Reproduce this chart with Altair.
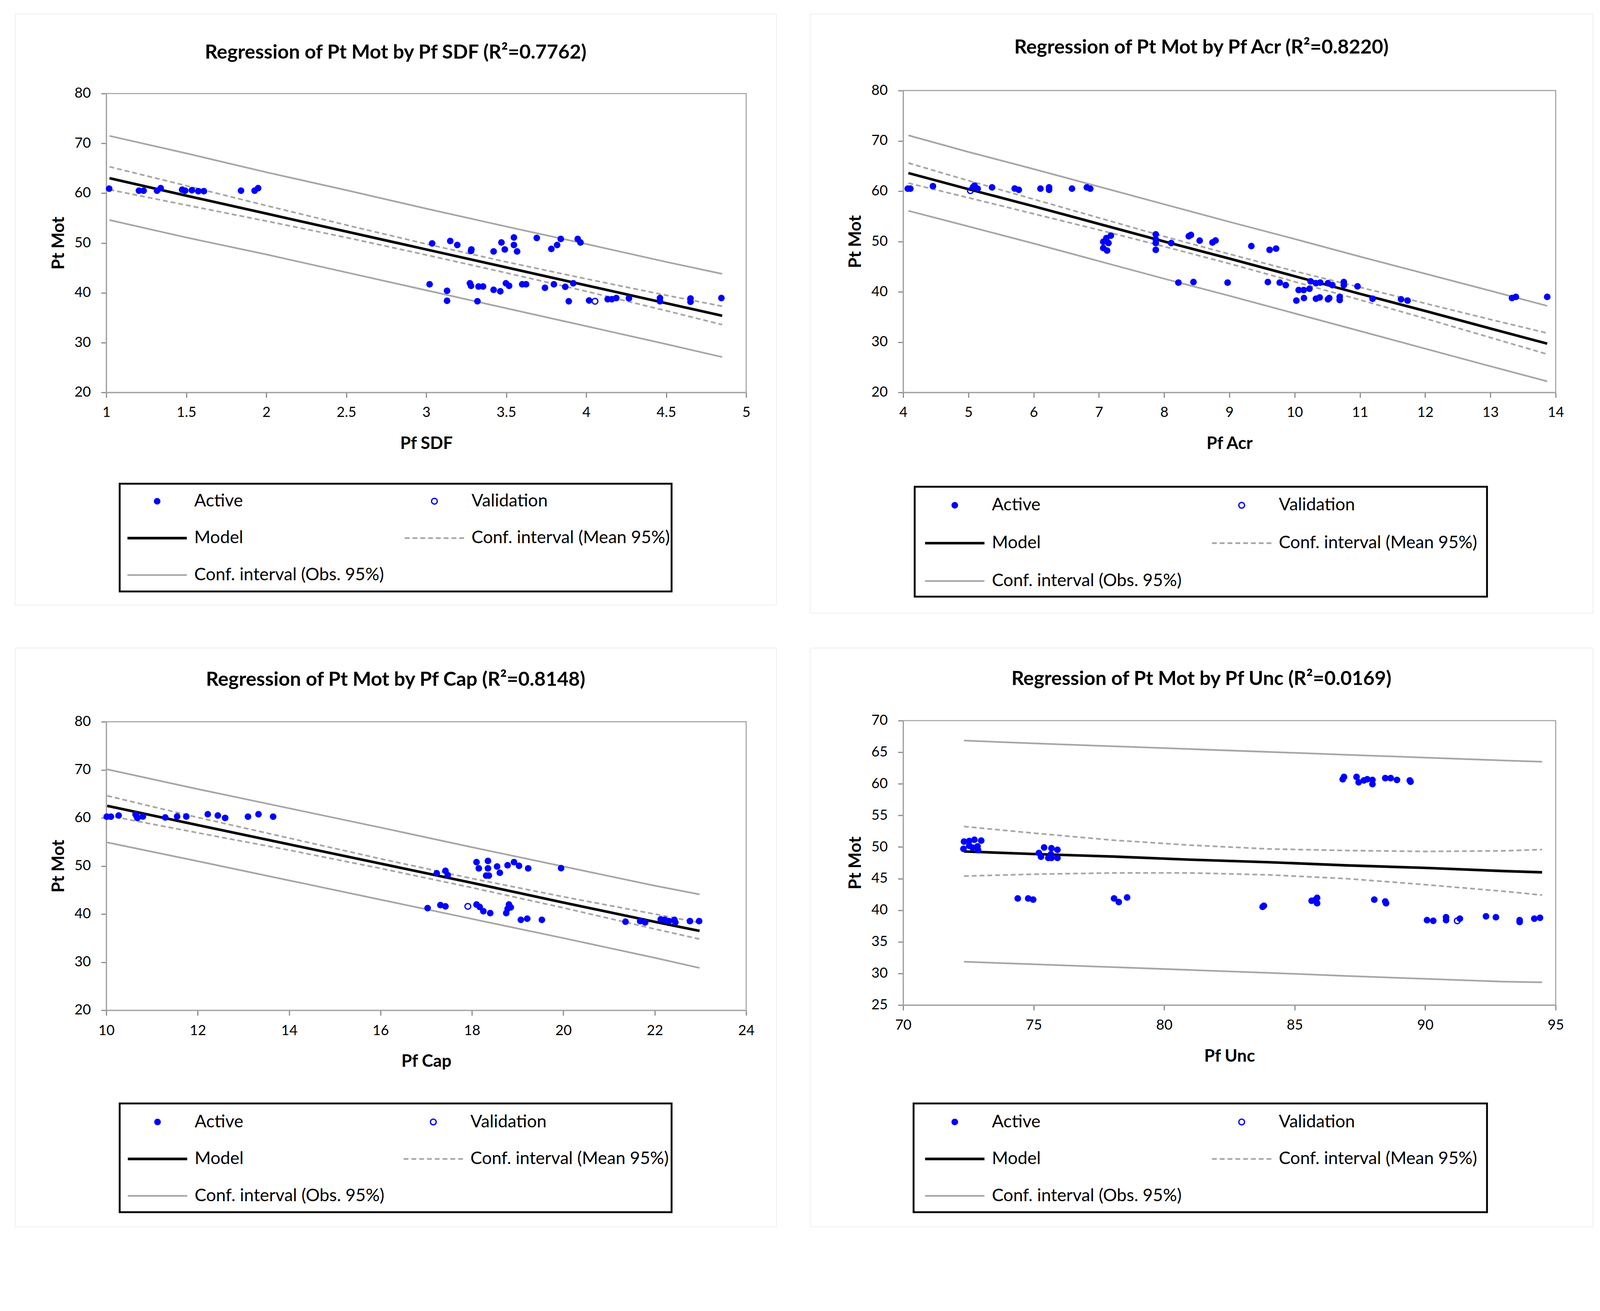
import altair as alt
import pandas as pd

# ------------------------------------------------------------------ data
Y_TITLE = "Pt Mot"
LEGEND_LABELS = ["Active", "Validation", "Model",
                 "Conf. interval (Mean 95%)", "Conf. interval (Obs. 95%)"]
LEGEND_KIND = ["active", "valid", "model", "mean", "obs"]
LEGEND_COL = [0, 1, 0, 1, 0]
LEGEND_ROW = [0, 0, 1, 1, 2]

# Panel 1 : Pf SDF
P1_TITLE = "Regression of Pt Mot by Pf SDF (R²=0.7762)"
P1_XTITLE = "Pf SDF"
P1_XTICKS = [1, 1.5, 2, 2.5, 3, 3.5, 4, 4.5, 5]
P1_YTICKS = [20, 30, 40, 50, 60, 70, 80]
P1_ACTIVE_X = [1.018, 1.204, 1.233, 1.317, 1.340, 1.474, 1.493, 1.535, 1.575, 1.610, 1.842, 1.927, 1.949,
               3.037, 3.150, 3.194, 3.280, 3.282, 3.421, 3.470, 3.491, 3.548, 3.548, 3.568, 3.691, 3.782,
               3.818, 3.841, 3.947, 3.964,
               3.021, 3.130, 3.130, 3.273, 3.280, 3.327, 3.355, 3.320, 3.421, 3.463, 3.498, 3.518, 3.600,
               3.624, 3.742, 3.798, 3.869, 3.919, 3.891, 4.018, 4.134, 4.160, 4.188, 4.267, 4.461, 4.461,
               4.652, 4.652, 4.845]
P1_ACTIVE_Y = [60.9, 60.5, 60.5, 60.5, 61.0, 60.7, 60.5, 60.6, 60.4, 60.4, 60.5, 60.5, 61.0,
               49.9, 50.4, 49.6, 48.4, 48.7, 48.3, 50.1, 48.7, 51.1, 49.6, 48.3, 51.0, 48.8,
               49.6, 50.8, 50.8, 50.1,
               41.7, 40.4, 38.4, 41.9, 41.4, 41.25, 41.25, 38.3, 40.6, 40.3, 41.9, 41.4, 41.7,
               41.7, 41.0, 41.7, 41.2, 41.9, 38.3, 38.45, 38.7, 38.7, 38.95, 38.9, 38.95, 38.3,
               38.85, 38.2, 38.95]
P1_VALID_X = [4.055]
P1_VALID_Y = [38.3]
P1_CURVE_X = [1.02, 1.5, 2.0, 2.5, 3.0, 3.5, 4.0, 4.5, 4.85]
P1_MODEL = [63.0, 59.5, 55.9, 52.3, 48.7, 45.1, 41.5, 37.9, 35.4]
P1_MEAN_UP = [65.3, 61.5, 57.5, 53.6, 49.8, 46.2, 42.8, 39.5, 37.3]
P1_MEAN_LO = [60.7, 57.6, 54.4, 51.1, 47.6, 44.0, 40.3, 36.4, 33.6]
P1_OBS_UP = [71.5, 68.0, 64.2, 60.6, 56.9, 53.3, 49.8, 46.2, 43.8]
P1_OBS_LO = [54.6, 51.1, 47.7, 44.1, 40.5, 36.9, 33.3, 29.7, 27.1]

# Panel 2 : Pf Acr
P2_TITLE = "Regression of Pt Mot by Pf Acr (R²=0.8220)"
P2_XTITLE = "Pf Acr"
P2_XTICKS = [4, 5, 6, 7, 8, 9, 10, 11, 12, 13, 14]
P2_YTICKS = [20, 30, 40, 50, 60, 70, 80]
P2_ACTIVE_X = [4.07, 4.11, 4.456, 5.07, 5.093, 5.141, 5.362, 5.709, 5.772, 6.104, 6.236, 6.236, 6.587,
               6.814, 6.867,
               7.066, 7.114, 7.183, 7.146, 7.066, 7.125, 7.871, 7.871, 7.871, 7.871, 8.108, 8.377, 8.41,
               8.544, 8.74, 8.787, 9.336, 9.616, 9.715,
               8.218, 8.449, 8.972, 9.589, 9.771, 9.863, 10.061, 10.138, 10.227, 10.244, 10.326, 10.392,
               10.51, 10.578, 10.753, 10.753, 10.963,
               10.026, 10.142, 10.326, 10.383, 10.51, 10.53, 10.69, 10.69, 11.194, 11.63, 11.73, 13.33,
               13.39, 13.87]
P2_ACTIVE_Y = [60.5, 60.5, 61.0, 60.8, 61.1, 60.5, 60.76, 60.52, 60.28, 60.5, 60.76, 60.28, 60.5,
               60.76, 60.5,
               49.94, 50.67, 51.17, 49.69, 48.7, 48.2, 51.42, 50.43, 49.69, 48.34, 49.69, 51.04, 51.3,
               50.18, 49.8, 50.2, 49.08, 48.34, 48.58,
               41.82, 41.94, 41.82, 41.94, 41.82, 41.33, 40.35, 40.35, 40.6, 42.07, 41.7, 41.82,
               41.7, 41.33, 41.94, 41.33, 41.08,
               38.25, 38.75, 38.62, 38.87, 38.5, 38.75, 38.99, 38.37, 38.62, 38.5, 38.25, 38.75,
               38.99, 38.99]
P2_VALID_X = [5.03]
P2_VALID_Y = [60.1]
P2_CURVE_X = [4.08, 5, 6, 7, 8, 9, 10, 11, 12, 13, 13.87]
P2_MODEL = [63.6, 60.4, 57.0, 53.5, 50.0, 46.6, 43.1, 39.6, 36.2, 32.7, 29.7]
P2_MEAN_UP = [65.6, 62.1, 58.4, 54.7, 51.0, 47.5, 44.1, 40.9, 37.7, 34.5, 31.8]
P2_MEAN_LO = [61.6, 58.7, 55.5, 52.3, 49.0, 45.6, 42.0, 38.4, 34.7, 30.9, 27.6]
P2_OBS_UP = [71.1, 67.8, 64.4, 60.9, 57.4, 53.9, 50.5, 47.0, 43.6, 40.2, 37.2]
P2_OBS_LO = [56.1, 53.0, 49.6, 46.1, 42.6, 39.2, 35.7, 32.2, 28.7, 25.2, 22.2]

# Panel 3 : Pf Cap
P3_TITLE = "Regression of Pt Mot by Pf Cap (R²=0.8148)"
P3_XTITLE = "Pf Cap"
P3_XTICKS = [10, 12, 14, 16, 18, 20, 22, 24]
P3_YTICKS = [20, 30, 40, 50, 60, 70, 80]
P3_ACTIVE_X = [10.01, 10.1, 10.27, 10.64, 10.68, 10.8, 10.66, 11.29, 11.55, 11.75, 12.22, 12.44, 12.60,
               13.10, 13.33, 13.65,
               17.23, 17.42, 17.47, 18.10, 18.15, 18.35, 18.35, 18.31, 18.37, 18.55, 18.61, 18.78, 18.92,
               19.03, 19.23, 19.95,
               17.03, 17.31, 17.42, 18.10, 18.17, 18.25, 18.40, 18.75, 18.81, 18.85, 18.78, 19.07, 19.21,
               19.53, 21.36, 21.68, 21.79, 22.13, 22.22, 22.31, 22.43, 22.45, 22.77, 22.97]
P3_ACTIVE_Y = [60.25, 60.25, 60.5, 60.75, 60.0, 60.3, 60.4, 60.1, 60.3, 60.3, 60.77, 60.5, 60.0,
               60.25, 60.77, 60.25,
               48.5, 49.0, 48.1, 50.8, 49.5, 51.06, 49.5, 48.0, 48.0, 49.9, 48.6, 50.16, 50.8,
               50.04, 49.5, 49.55,
               41.23, 41.86, 41.61, 41.99, 41.48, 40.58, 40.2, 40.2, 41.99, 41.4, 41.1, 38.8, 39.05,
               38.8, 38.41, 38.54, 38.28, 38.9, 38.8, 38.54, 38.8, 38.28, 38.54, 38.54]
P3_VALID_X = [17.91]
P3_VALID_Y = [41.61]
P3_CURVE_X = [10.02, 12, 14, 16, 18, 20, 22, 22.98]
P3_MODEL = [62.5, 58.5, 54.5, 50.5, 46.5, 42.4, 38.4, 36.5]
P3_MEAN_UP = [64.6, 60.1, 55.8, 51.5, 47.4, 43.6, 40.0, 38.2]
P3_MEAN_LO = [60.5, 56.9, 53.3, 49.5, 45.5, 41.3, 36.9, 34.8]
P3_OBS_UP = [70.1, 66.0, 62.0, 58.0, 53.9, 49.9, 45.9, 44.1]
P3_OBS_LO = [54.9, 51.0, 47.0, 43.0, 39.0, 35.0, 30.9, 28.8]

# Panel 4 : Pf Unc
P4_TITLE = "Regression of Pt Mot by Pf Unc (R²=0.0169)"
P4_XTITLE = "Pf Unc"
P4_XTICKS = [70, 75, 80, 85, 90, 95]
P4_YTICKS = [25, 30, 35, 40, 45, 50, 55, 60, 65, 70]
P4_ACTIVE_X = [72.33, 72.53, 72.73, 72.99, 72.31, 72.53, 72.85, 72.87, 72.66,
               75.40, 75.68, 75.91, 75.20, 75.28, 75.56, 75.68, 75.91, 75.66,
               74.39, 74.79, 74.98, 78.08, 78.26, 78.58, 83.77, 83.82,
               85.65, 85.77, 85.86, 85.86, 88.05, 88.47, 88.50,
               86.84, 86.89, 87.37, 87.45, 87.65, 87.78, 87.98, 87.98, 88.47, 88.68, 88.92, 89.41, 89.44,
               90.07, 90.31, 90.80, 90.80, 91.33, 92.33, 92.71, 93.62, 93.62, 94.18, 94.40]
P4_ACTIVE_Y = [50.86, 50.96, 51.15, 51.02, 49.71, 50.19, 50.1, 49.52, 49.9,
               49.94, 49.81, 49.56, 49.05, 48.47, 48.28, 48.28, 48.28, 48.85,
               41.87, 41.87, 41.68, 41.87, 41.3, 42.02, 40.53, 40.7,
               41.49, 41.58, 41.96, 41.1, 41.68, 41.39, 41.1,
               60.72, 61.1, 61.1, 60.24, 60.53, 60.72, 60.62, 59.95, 60.9, 60.9, 60.62, 60.53, 60.33,
               38.43, 38.33, 38.9, 38.43, 38.66, 39.04, 38.9, 38.43, 38.14, 38.66, 38.8]
P4_VALID_X = [91.23]
P4_VALID_Y = [38.33]
P4_CURVE_X = [72.33, 75, 78, 81, 84, 87, 90, 93, 94.48]
P4_MODEL = [49.3, 48.9, 48.5, 48.0, 47.6, 47.1, 46.7, 46.2, 46.0]
P4_MEAN_UP = [53.25, 52.2, 51.1, 50.3, 49.7, 49.45, 49.3, 49.4, 49.6]
P4_MEAN_LO = [45.4, 45.7, 45.9, 45.9, 45.6, 45.0, 44.05, 43.0, 42.4]
P4_OBS_UP = [66.85, 66.4, 65.95, 65.5, 65.05, 64.6, 64.15, 63.7, 63.5]
P4_OBS_LO = [31.85, 31.45, 31.0, 30.55, 30.1, 29.6, 29.15, 28.7, 28.6]

# ------------------------------------------------------------------ style / layout
FONT = "Lato"
BLUE = "#0000FF"
LINE_GRAY = "#A6A6A6"
AXIS_GRAY = "#868686"
PANEL_GRAY = "#A6A6A6"
PT_SIZE = 320

LAYOUT = {
    1: dict(W=2051, H=1592, plot=(246, 1970, 215, 1020), title_y=105,
            lcols=(383, 1130), lrows=(1313, 1512), lbox=(-101, 639, -47, 44)),
    2: dict(W=2109, H=1614, plot=(251, 2009, 207, 1020), title_y=91,
            lcols=(390, 1163), lrows=(1324, 1528), lbox=(-108, 661, -50, 42)),
    3: dict(W=2051, H=1559, plot=(246, 1970, 199, 976), title_y=86,
            lcols=(384, 1127), lrows=(1277, 1476), lbox=(-102, 642, -50, 44)),
    4: dict(W=2109, H=1559, plot=(251, 2009, 196, 962), title_y=84,
            lcols=(390, 1163), lrows=(1277, 1476), lbox=(-111, 661, -50, 44)),
}

PANELS = {
    1: dict(title=P1_TITLE, xtitle=P1_XTITLE, xticks=P1_XTICKS, yticks=P1_YTICKS,
            ax=P1_ACTIVE_X, ay=P1_ACTIVE_Y, vx=P1_VALID_X, vy=P1_VALID_Y, cx=P1_CURVE_X,
            model=P1_MODEL, mup=P1_MEAN_UP, mlo=P1_MEAN_LO, oup=P1_OBS_UP, olo=P1_OBS_LO),
    2: dict(title=P2_TITLE, xtitle=P2_XTITLE, xticks=P2_XTICKS, yticks=P2_YTICKS,
            ax=P2_ACTIVE_X, ay=P2_ACTIVE_Y, vx=P2_VALID_X, vy=P2_VALID_Y, cx=P2_CURVE_X,
            model=P2_MODEL, mup=P2_MEAN_UP, mlo=P2_MEAN_LO, oup=P2_OBS_UP, olo=P2_OBS_LO),
    3: dict(title=P3_TITLE, xtitle=P3_XTITLE, xticks=P3_XTICKS, yticks=P3_YTICKS,
            ax=P3_ACTIVE_X, ay=P3_ACTIVE_Y, vx=P3_VALID_X, vy=P3_VALID_Y, cx=P3_CURVE_X,
            model=P3_MODEL, mup=P3_MEAN_UP, mlo=P3_MEAN_LO, oup=P3_OBS_UP, olo=P3_OBS_LO),
    4: dict(title=P4_TITLE, xtitle=P4_XTITLE, xticks=P4_XTICKS, yticks=P4_YTICKS,
            ax=P4_ACTIVE_X, ay=P4_ACTIVE_Y, vx=P4_VALID_X, vy=P4_VALID_Y, cx=P4_CURVE_X,
            model=P4_MODEL, mup=P4_MEAN_UP, mlo=P4_MEAN_LO, oup=P4_OBS_UP, olo=P4_OBS_LO),
}

LEGEND_DF = pd.DataFrame({"label": LEGEND_LABELS, "kind": LEGEND_KIND,
                          "col": LEGEND_COL, "row": LEGEND_ROW})


def make_panel(d, lay):
    W, H = lay["W"], lay["H"]
    left, right, top, bottom = lay["plot"]
    xt, yt = d["xticks"], d["yticks"]
    xs = alt.Scale(domain=[xt[0], xt[-1]], range=[left, right], zero=False, nice=False)
    ys = alt.Scale(domain=[yt[0], yt[-1]], range=[bottom, top], zero=False, nice=False)
    common = dict(grid=False, domainColor=AXIS_GRAY, domainWidth=3, tickColor=AXIS_GRAY,
                  tickWidth=3, tickSize=14, labelFont=FONT, labelFontSize=38,
                  labelColor="#000000", titleFont=FONT, titleFontSize=46,
                  titleFontWeight="bold", titleColor="#000000", labelOverlap=False)
    xax = alt.Axis(values=xt, format="~r", offset=-(H - bottom), title=d["xtitle"],
                   labelFlush=False, labelPadding=22, titlePadding=42, **common)
    yax = alt.Axis(values=yt, format="~r", offset=-left, title=Y_TITLE,
                   labelPadding=28, titlePadding=18, **common)

    def X(f):
        return alt.X(f, type="quantitative", scale=xs, axis=xax)

    def Y(f):
        return alt.Y(f, type="quantitative", scale=ys, axis=yax)

    frame_df = pd.DataFrame({"x0": [xt[0]], "x1": [xt[-1]], "y0": [yt[0]], "y1": [yt[-1]]})
    frame = alt.Chart(frame_df).mark_rect(fillOpacity=0, stroke=PANEL_GRAY, strokeWidth=3).encode(
        x=X("x0"), x2="x1", y=Y("y0"), y2="y1")

    def curve(vals, **style):
        df = pd.DataFrame({"x": d["cx"], "y": vals})
        return alt.Chart(df).mark_line(**style).encode(x=X("x"), y=Y("y"))

    obs_style = dict(color=LINE_GRAY, strokeWidth=4.5)
    mean_style = dict(color=LINE_GRAY, strokeWidth=4.5, strokeDash=[13, 8])
    lines = [curve(d["oup"], **obs_style), curve(d["olo"], **obs_style),
             curve(d["mup"], **mean_style), curve(d["mlo"], **mean_style),
             curve(d["model"], color="#000000", strokeWidth=7)]

    act = alt.Chart(pd.DataFrame({"x": d["ax"], "y": d["ay"]})).mark_circle(
        size=PT_SIZE, color=BLUE, opacity=1).encode(x=X("x"), y=Y("y"))
    val = alt.Chart(pd.DataFrame({"x": d["vx"], "y": d["vy"]})).mark_point(
        shape="circle", filled=False, size=PT_SIZE - 80, color=BLUE, strokeWidth=3.5,
        opacity=1).encode(x=X("x"), y=Y("y"))

    plot = alt.layer(frame, *lines, act, val)

    # ---- legend box + panel title
    lx = alt.Scale(domain=[0, 1], range=list(lay["lcols"]), zero=False, nice=False)
    ly = alt.Scale(domain=[0, 2], range=list(lay["lrows"]), zero=False, nice=False)
    LX = lambda f: alt.X(f, type="quantitative", scale=lx, axis=None)
    LY = lambda f: alt.Y(f, type="quantitative", scale=ly, axis=None)
    bl, br, bt, bb = lay["lbox"]
    base = alt.Chart(LEGEND_DF)
    box = base.transform_aggregate(
        c0="min(col)", c1="max(col)", r0="min(row)", r1="max(row)"
    ).mark_rect(fillOpacity=0, stroke="#000000", strokeWidth=5,
                xOffset=bl, x2Offset=br, yOffset=bt, y2Offset=bb).encode(
        x=LX("c0"), x2="c1", y=LY("r0"), y2="r1")
    labels = base.mark_text(align="left", baseline="middle", dx=100, font=FONT,
                            fontSize=47, color="#000000").encode(
        x=LX("col"), y=LY("row"), text="label:N")
    s_act = base.transform_filter("datum.kind == 'active'").mark_circle(
        size=PT_SIZE, color=BLUE, opacity=1).encode(x=LX("col"), y=LY("row"))
    s_val = base.transform_filter("datum.kind == 'valid'").mark_point(
        shape="circle", filled=False, size=PT_SIZE - 80, color=BLUE, strokeWidth=3.5,
        opacity=1).encode(x=LX("col"), y=LY("row"))

    def lrule(kind, **style):
        return base.transform_filter(f"datum.kind == '{kind}'").mark_rule(
            xOffset=-80, x2Offset=80, **style).encode(x=LX("col"), x2="col", y=LY("row"))

    title = alt.Chart(pd.DataFrame({"t": [d["title"]]})).mark_text(
        font=FONT, fontSize=53, fontWeight="bold", color="#000000",
        align="center", baseline="middle").encode(
        x=alt.value(W / 2), y=alt.value(lay["title_y"]), text="t:N")

    legend = alt.layer(box,
                       lrule("model", color="#000000", strokeWidth=7),
                       lrule("mean", color=LINE_GRAY, strokeWidth=4.5, strokeDash=[13, 8]),
                       lrule("obs", color=LINE_GRAY, strokeWidth=4.5),
                       s_act, s_val, labels, title)

    return alt.layer(plot, legend).resolve_scale(x="independent", y="independent").properties(
        width=W, height=H)


p = [make_panel(PANELS[k], LAYOUT[k]) for k in (1, 2, 3, 4)]
chart = alt.concat(*p, columns=2, spacing={"row": 94, "column": 91},
                   bounds="flush").properties(
    padding={"left": 31, "top": -57, "right": 10, "bottom": 10},
    background="white",
).configure_view(stroke=PANEL_GRAY, strokeWidth=3).configure(font=FONT)

chart.save("out.html", embed_options={"renderer": "svg", "actions": False})
